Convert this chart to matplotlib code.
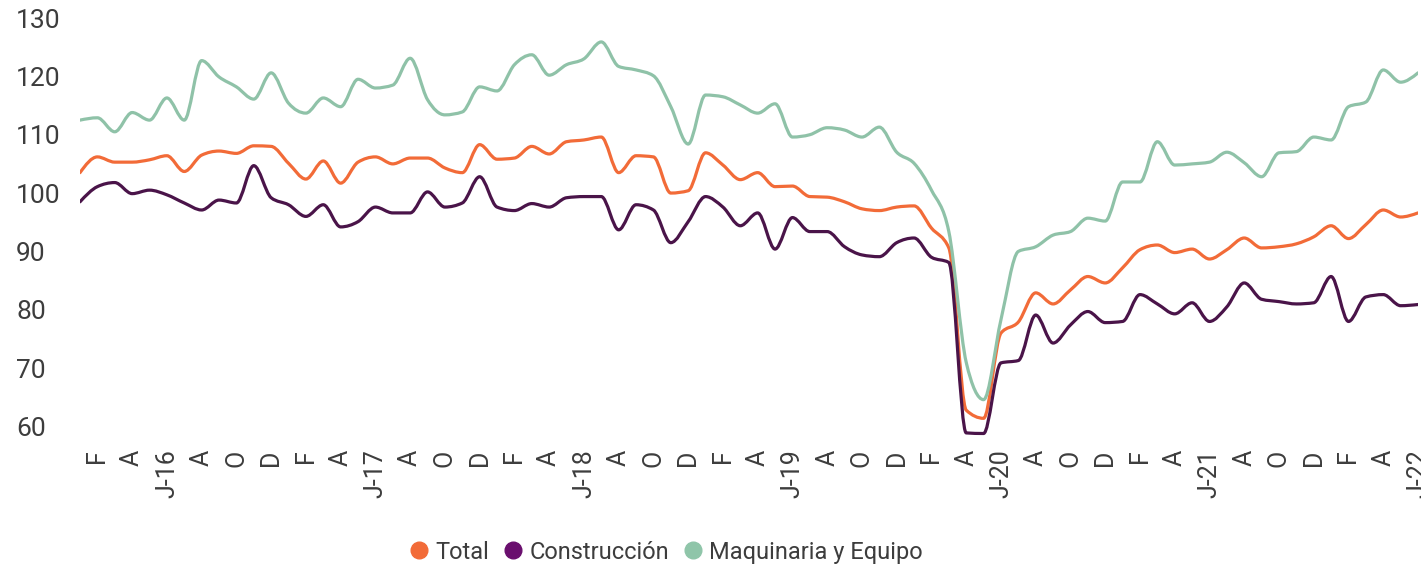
import numpy as np
import matplotlib
matplotlib.use('Agg')
import matplotlib.pyplot as plt
from matplotlib.path import Path
from matplotlib.patches import PathPatch
from matplotlib.lines import Line2D

plt.rcParams['font.family'] = ['Roboto', 'DejaVu Sans']

# Monthly index, Jan 2016 - Jun 2022
total = [103.5, 106.2, 105.3, 105.3, 105.7, 106.4, 103.7, 106.5, 107.2, 106.8,
         108.1, 108.0, 105.1, 102.4, 105.5, 101.7, 105.3, 106.2, 105.0, 106.0,
         106.0, 104.3, 103.5, 108.3, 105.8, 106.0, 108.0, 106.7, 108.8, 109.1,
         109.6, 103.5, 106.4, 106.2, 100.0, 100.4, 106.9, 104.8, 102.3, 103.5,
         101.1, 101.2, 99.4, 99.3, 98.5, 97.3, 97.0, 97.6, 97.8, 94.0,
         90.6, 62.8, 61.4, 76.0, 77.9, 82.9, 81.0, 83.4, 85.7, 84.6,
         87.2, 90.3, 91.1, 89.8, 90.4, 88.7, 90.3, 92.3, 90.6, 90.8,
         91.3, 92.5, 94.4, 92.2, 94.6, 97.1, 95.9, 96.6]

construccion = [98.5, 101.1, 101.8, 99.9, 100.5, 99.7, 98.3, 97.1, 98.8, 98.3,
                104.7, 99.2, 98.0, 96.0, 98.0, 94.2, 95.1, 97.6, 96.6, 96.6,
                100.2, 97.6, 98.3, 102.8, 97.6, 97.0, 98.2, 97.6, 99.2, 99.4,
                99.4, 93.7, 98.0, 97.1, 91.5, 95.1, 99.4, 97.6, 94.4, 96.6,
                90.4, 95.8, 93.4, 93.4, 90.8, 89.4, 89.1, 91.5, 92.3, 89.0,
                88.1, 58.9, 58.8, 70.9, 71.3, 79.1, 74.3, 77.4, 79.7, 77.8,
                78.0, 82.6, 81.0, 79.3, 81.2, 78.0, 80.5, 84.6, 81.8, 81.4,
                81.0, 81.2, 85.7, 78.0, 82.2, 82.6, 80.7, 80.9]

maquinaria = [112.5, 112.9, 110.5, 113.8, 112.5, 116.3, 112.5, 122.7, 119.9, 118.2,
              116.1, 120.6, 115.4, 113.7, 116.3, 114.8, 119.5, 118.0, 118.5, 123.1,
              116.0, 113.4, 113.9, 118.2, 117.5, 122.0, 123.7, 120.2, 122.0, 123.0,
              125.9, 121.7, 121.1, 120.1, 114.8, 108.4, 116.8, 116.5, 115.1, 113.7,
              115.3, 109.6, 110.0, 111.2, 110.8, 109.6, 111.3, 107.0, 105.1, 100.5,
              93.4, 71.0, 64.6, 78.3, 90.0, 90.8, 92.8, 93.4, 95.7, 95.2,
              101.9, 101.9, 108.8, 104.8, 105.0, 105.3, 107.0, 105.2, 102.8, 106.9,
              107.1, 109.6, 109.1, 114.8, 115.6, 121.1, 119.0, 120.6]

# labels every second month, starting Feb 2016
tick_labels = ['F', 'A', 'J-16', 'A', 'O', 'D',
               'F', 'A', 'J-17', 'A', 'O', 'D',
               'F', 'A', 'J-18', 'A', 'O', 'D',
               'F', 'A', 'J-19', 'A', 'O', 'D',
               'F', 'A', 'J-20', 'A', 'O', 'D',
               'F', 'A', 'J-21', 'A', 'O', 'D',
               'F', 'A', 'J-22']

series_names = ['Total', 'Construcción', 'Maquinaria y Equipo']
line_colors = ['#f26b38', '#4a1449', '#8fc2a8']
dot_colors = ['#f26b38', '#6a0f6e', '#8fc5a9']
TEXT = '#3d3d3d'


def monotone_path(x, y):
    """Monotone-x cubic bezier path through the points (like d3 curveMonotoneX)."""
    x = np.asarray(x, float)
    y = np.asarray(y, float)
    h = np.diff(x)
    s = np.diff(y) / h
    t = np.zeros_like(y)
    for i in range(1, len(y) - 1):
        s0, s1 = s[i - 1], s[i]
        p = (s0 * h[i] + s1 * h[i - 1]) / (h[i - 1] + h[i])
        t[i] = (np.sign(s0) + np.sign(s1)) * min(abs(s0), abs(s1), 0.5 * abs(p))
    t[0] = (3 * s[0] - t[1]) / 2
    t[-1] = (3 * s[-1] - t[-2]) / 2
    verts = [(x[0], y[0])]
    codes = [Path.MOVETO]
    for i in range(len(x) - 1):
        dx = h[i] / 3
        verts += [(x[i] + dx, y[i] + dx * t[i]),
                  (x[i + 1] - dx, y[i + 1] - dx * t[i + 1]),
                  (x[i + 1], y[i + 1])]
        codes += [Path.CURVE4] * 3
    return Path(verts, codes)


fig = plt.figure(figsize=(14.21, 5.74), dpi=100)
ax = fig.add_axes([80 / 1421, 1 - 444 / 574, 1338 / 1421, 426 / 574])

months = np.arange(len(total))
for vals, col in zip([total, construccion, maquinaria], line_colors):
    ax.add_patch(PathPatch(monotone_path(months, vals), facecolor='none',
                           edgecolor=col, lw=2.3, capstyle='round', joinstyle='round'))

ax.set_xlim(0, len(total) - 1)
ax.set_ylim(57, 130)
ax.set_yticks(range(60, 131, 10))
ax.set_xticks(months[1::2])
ax.set_xticklabels(tick_labels, rotation=90, fontsize=18, color=TEXT)
ax.tick_params(axis='x', length=0, pad=4)
ax.tick_params(axis='y', length=0, pad=46, labelsize=19, labelcolor=TEXT)
for lab in ax.get_yticklabels():
    lab.set_horizontalalignment('left')
for sp in ax.spines.values():
    sp.set_visible(False)

handles = [Line2D([], [], ls='none', marker='o', ms=12, mfc=c, mec=c) for c in dot_colors]
leg = fig.legend(handles, series_names, loc='center', bbox_to_anchor=(0.468, 0.038),
                 ncol=3, frameon=False, fontsize=17, handletextpad=0.2,
                 columnspacing=0.5, handlelength=1.0)
for txt in leg.get_texts():
    txt.set_color(TEXT)

fig.savefig('out.png', dpi=100)
